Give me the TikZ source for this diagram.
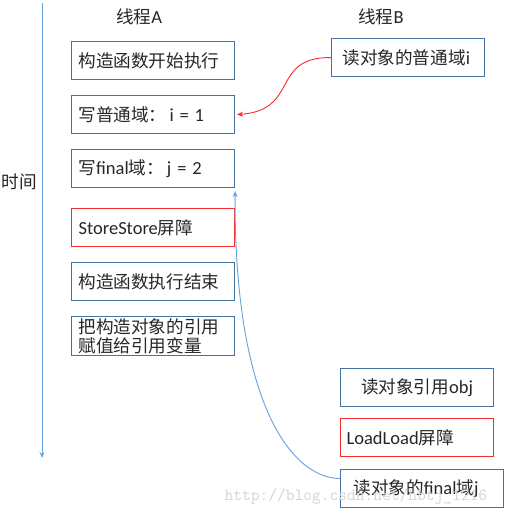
\documentclass[tikz,border=0pt]{standalone}
\usepackage{fontspec}
\setmainfont{Noto Sans CJK SC}
\newfontfamily\lat{Carlito}
\newcommand{\lt}[1]{{\lat\fontsize{18.5}{20}\selectfont #1}}
\usetikzlibrary{arrows.meta}
\definecolor{boxblue}{RGB}{70,114,160}
\definecolor{lineblue}{RGB}{100,160,220}
\definecolor{boxred}{RGB}{245,45,45}
\definecolor{txt}{RGB}{38,38,38}
\definecolor{wm}{RGB}{215,212,205}
\begin{document}
\begin{tikzpicture}[x=1pt,y=-1pt,
  every node/.style={font=\fontsize{17.6}{20}\selectfont, text=txt},
  boxA/.style={draw=boxblue, line width=1.1pt, anchor=north west, minimum width=161pt, minimum height=38pt, text width=149pt, inner xsep=7pt, inner ysep=0pt, align=left},
  boxB/.style={draw=boxblue, line width=1.1pt, anchor=north west, minimum width=153pt, minimum height=38pt, text width=141pt, inner xsep=6pt, inner ysep=0pt, align=left},
  redbox/.style={draw=boxred},
  lbl/.style={anchor=center}]
\useasboundingbox (0,0) rectangle (517,522);
% time axis
\coordinate (t0) at (42,3);
\coordinate (t1) at (42,458);
\draw[lineblue, line width=1pt, -{Stealth[length=6pt,width=5pt]}] (t0) -- (t1);
\node[lbl] (time) at (19,182) {时间};
\node[lbl] (ta) at (139,17) {线程\lt{A}};
\node[lbl] (tb) at (381,17) {线程\lt{B}};
% thread A
\node[boxA] (a1) at (71,41) {构造函数开始执行};
\node[boxA] (a2) at (71,95) {写普通域：\hspace{3pt}\lt{i = 1}};
\node[boxA] (a3) at (71,149) {写\lt{final}域：\hspace{3pt}\lt{j = 2}};
\node[boxA, redbox] (a4) at (71,208) {\lt{StoreStore}屏障};
\node[boxA] (a5) at (71,262) {构造函数执行结束};
\node[boxA, minimum height=39pt] (a6) at (71,316) {把构造对象的引用\\[-1pt]赋值给引用变量};
% thread B
\node[boxB, inner xsep=11pt, text width=131pt] (b1) at (331,38) {读对象的普通域\lt{i}};
\node[boxB, align=center] (b2) at (340,368) {读对象引用\lt{obj}};
\node[boxB, redbox] (b3) at (340,418) {\lt{LoadLoad}屏障};
\node[boxB, inner xsep=13pt, text width=137pt] (b4) at (340,469) {读对象的\lt{final}域\lt{j}};
% red connector
\draw[boxred, line width=0.9pt, -{Stealth[length=6pt,width=5pt]}] (b1.west) .. controls (270,57) and (300,110) .. ([xshift=2pt]a2.east);
% blue connector
\draw[lineblue, line width=0.9pt, -{Stealth[length=6pt,width=5pt]}] ([yshift=10pt]b4.west) .. controls (290,478) and (234,400) .. ([yshift=-3pt]a3.south east);
% watermark
\node[anchor=west, text=wm, font=\ttfamily\fontsize{17}{20}\selectfont] (wmk) at (221,497) {http://blog.csdn.net/hbtj\_1216};
\end{tikzpicture}
\end{document}
